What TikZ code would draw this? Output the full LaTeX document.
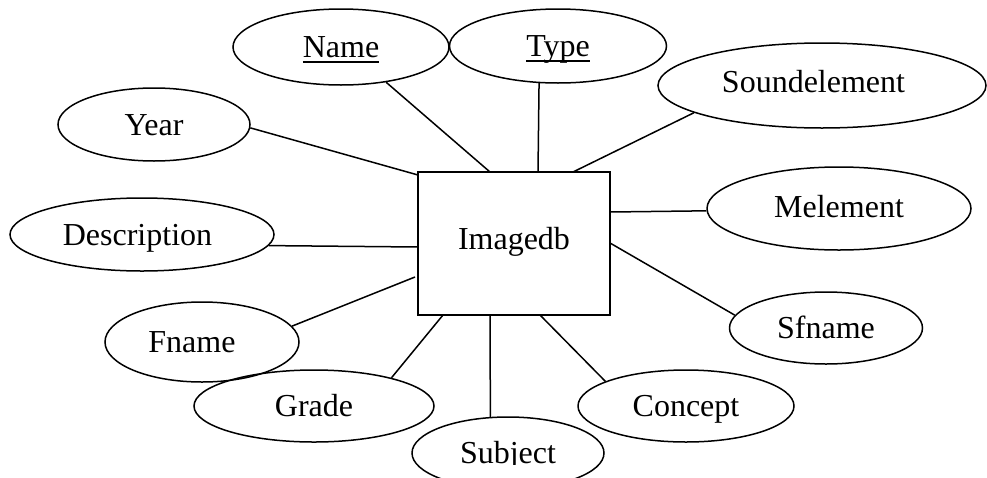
\documentclass[tikz,border=0pt]{standalone}
\usepackage{fontspec}
\setmainfont{Liberation Serif}
\usetikzlibrary{shapes.geometric}
% key attributes: underline kept at one level whatever the descenders
\newcommand{\keyattr}[1]{\setbox0=\hbox{#1}\rlap{\rule[-5pt]{\wd0}{1.8pt}}\box0}
\begin{document}
\begin{tikzpicture}[x=1pt,y=1pt,
  erfont/.style={font=\fontsize{32}{38}\selectfont},
  attr/.style={draw, ellipse, line width=1.5pt, inner sep=0pt,
    text height=21pt, text depth=0pt, erfont},
  attrlabel/.style={inner sep=0pt, text height=21pt, text depth=0pt, erfont},
  entity/.style={draw, rectangle, line width=1.5pt, inner sep=0pt,
    minimum width=192pt, minimum height=143pt,
    text height=21pt, text depth=10pt, erfont},
  link/.style={line width=1.5pt}]
\useasboundingbox (0,0) rectangle (987,-477);
\clip (0,0) rectangle (987,-477);

% entity
\node[entity] (db) at (514,-243.5) {Imagedb};

% attributes (a trailing kern moves a label a little left of centre)
\node[attr, minimum width=216pt, minimum height=76pt] (name) at (341,-47) {\keyattr{Name}};
\node[attr, minimum width=217pt, minimum height=74pt] (type) at (558,-46) {\keyattr{Type}};
\node[attr, minimum width=328pt, minimum height=85pt, text depth=8pt] (sound) at (822,-85.5) {Soundelement\kern17pt};
\node[attr, minimum width=192pt, minimum height=73pt] (year) at (154,-124.5) {Year};
\node[attr, minimum width=264pt, minimum height=73pt] (desc) at (142,-234.5) {Description\kern9pt};
\node[attr, minimum width=194pt, minimum height=80pt] (fname) at (202,-342) {Fname\kern20pt};
\node[attr, minimum width=240pt, minimum height=72pt] (grade) at (314,-406) {Grade};
\node[attr, minimum width=192pt, minimum height=72pt] (subject) at (508,-453) {};
\node[attr, minimum width=216pt, minimum height=72pt] (concept) at (686,-406) {Concept};
\node[attr, minimum width=264pt, minimum height=83pt, text depth=4pt] (melem) at (839,-208.5) {Melement};
\node[attr, minimum width=193pt, minimum height=72pt] (sfname) at (826,-328) {Sfname};

% the Subject label is cut off at its baseline
\begin{scope}
  \clip (400,-400) rectangle (620,-464.5);
  \node[attrlabel] (subjlabel) at (subject.center) {Subject};
\end{scope}

% attachment points on the entity box
\coordinate (pName)    at (490,-172);
\coordinate (pType)    at (538,-172);
\coordinate (pSound)   at (573,-172);
\coordinate (pYear)    at (418,-175);
\coordinate (pDesc)    at (418,-247);
\coordinate (pFname)   at (415,-277);
\coordinate (pMelem)   at (610,-212);
\coordinate (pSfname)  at (610,-243);
\coordinate (pGrade)   at (443,-315);
\coordinate (pSubject) at (490,-315);
\coordinate (pConcept) at (540,-315);

% connectors
\draw[link] (name.-38)     -- (pName);
\draw[link] (type.243.4)   -- (pType);
\draw[link] (sound.192.7)  -- (pSound);
\draw[link] (year.-2)      -- (pYear);
\draw[link] (desc.-5)      -- (pDesc);
\draw[link] (fname.10.4)   -- (pFname);
\draw[link] (melem.181)    -- (pMelem);
\draw[link] (sfname.172.7) -- (pSfname);
\draw[link] (grade.20)     -- (pGrade);
\draw[link] (subject.116.6) -- (pSubject);
\draw[link] (concept.163.7) -- (pConcept);
\end{tikzpicture}
\end{document}
